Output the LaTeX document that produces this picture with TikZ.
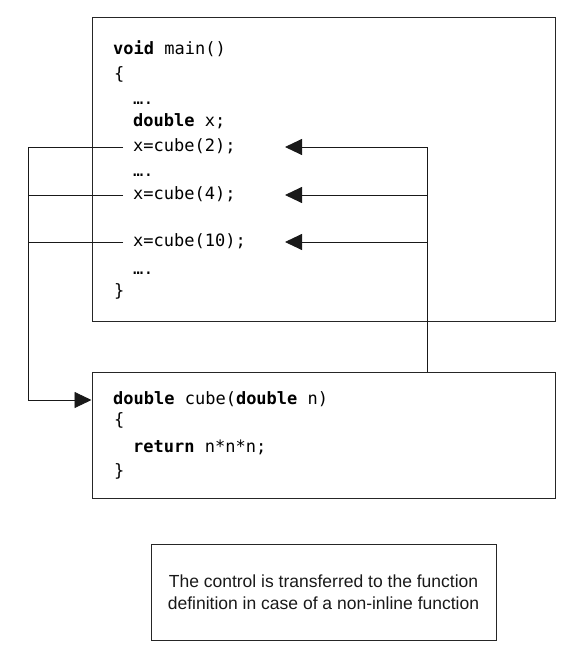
\documentclass[tikz,border=0pt]{standalone}
\usepackage{fontspec}
\setmonofont{DejaVu Sans Mono}
\setsansfont{Liberation Sans}
\usetikzlibrary{arrows.meta}
\tikzset{
  box/.style={draw=black!85, line width=1pt, inner sep=0pt},
  code/.style={font=\ttfamily\fontsize{17}{20}\selectfont, anchor=west, inner xsep=0pt, inner ysep=0pt, text height=12pt, text depth=3pt},
  call/.style={code, inner xsep=10pt},
  conn/.style={line width=0.9pt, draw=black!90},
  arr/.style={conn, -{Triangle[length=17pt,width=16pt]}},
  caption/.style={font=\sffamily\fontsize{17.5}{22}\selectfont, align=center, text=black!90},
}
\begin{document}
\begin{tikzpicture}[x=1pt,y=-1pt]
\useasboundingbox (0,0) rectangle (586,655);
% boxes
\node[box, minimum width=463pt, minimum height=303pt] (mainbox) at (323.5,169.5) {};
\node[box, minimum width=463pt, minimum height=126pt] (fbox) at (323.5,435) {};
\node[box, minimum width=345pt, minimum height=96pt, caption] (note) at (323.5,592)
  {The control is transferred to the function\\definition in case of a non-inline function};
% main code
\node[code] (l1) at (113,50) {\textbf{void} main()};
\node[code] (l2) at (114,75) {\{};
\node[code] (l3) at (133,100) {….};
\node[code] (l4) at (133,122) {\textbf{double} x;};
\node[call] (call2) at (123,147) {x=cube(2);};
\node[code] (l6) at (133,172) {….};
\node[call] (call4) at (123,195) {x=cube(4);};
\node[call] (call10) at (123,242) {x=cube(10);};
\node[code] (l9) at (133,270) {….};
\node[code] (l10) at (114,292) {\}};
% function code
\node[code] (fhead) at (113,400) {\textbf{double} cube(\textbf{double} n)};
\node[code] (f2) at (114,421) {\{};
\node[code] (f3) at (133,448) {\textbf{return} n*n*n;};
\node[code] (f4) at (114,472) {\}};
% helper coordinates
\coordinate (lx) at (28,0);
\coordinate (vx) at (427,0);
\coordinate (t2) at (285,147);
\coordinate (t4) at (285,195);
\coordinate (t10) at (285,242);
% call connectors
\draw[arr] (call2.west) -- (lx |- call2) -- (lx |- fhead) -- (fbox.west |- fhead);
\draw[conn] (call4.west) -- (lx |- call4);
\draw[conn] (call10.west) -- (lx |- call10);
% return connectors
\draw[arr] (fbox.north -| vx) -- (vx |- t2) -- (t2);
\draw[arr] (vx |- t4) -- (t4);
\draw[arr] (vx |- t10) -- (t10);
\end{tikzpicture}
\end{document}
